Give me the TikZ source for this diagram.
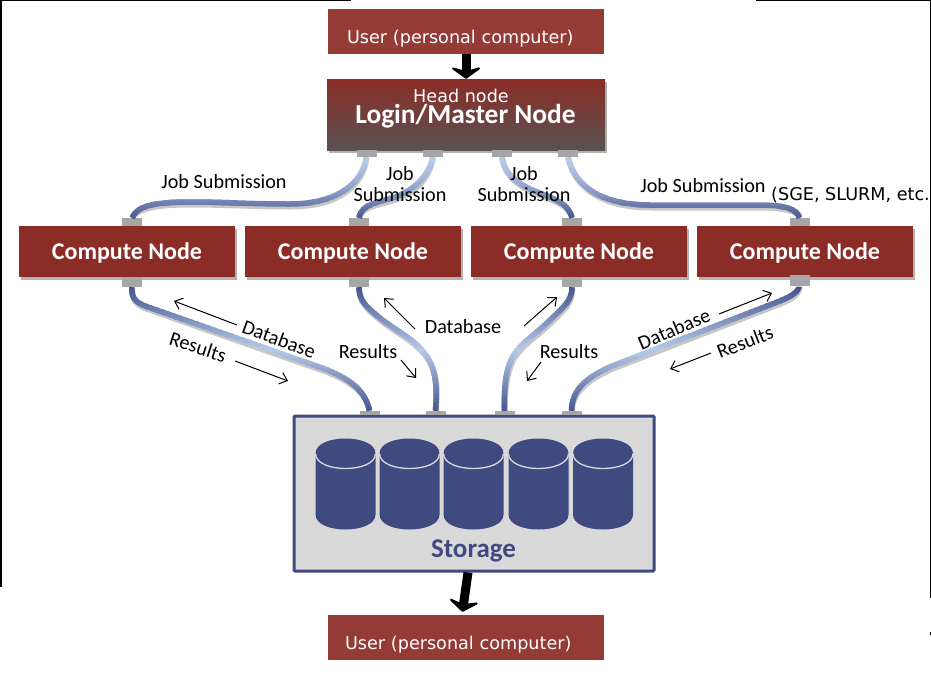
\documentclass[tikz,border=0pt]{standalone}
\usepackage{fontspec}
\setmainfont{Carlito}
\newfontfamily\dejavu{DejaVu Sans}
\usetikzlibrary{arrows.meta,shadows}

\definecolor{nodered}{HTML}{8B2D26}
\definecolor{userred}{HTML}{943B36}
\definecolor{headgrey}{HTML}{595252}
\definecolor{portgrey}{HTML}{A6A6A6}
\definecolor{boxgrey}{HTML}{D9D9D9}
\definecolor{storeblue}{HTML}{3F4A80}
\definecolor{tubelight}{HTML}{B7CAE9}
\definecolor{tubedark}{HTML}{46558F}

\newcommand{\uppertubes}[1]{
  \draw[#1] (hp1.south) .. controls (362,185) and (335,204) .. (290,204) .. controls (250,204) and (225,202) .. (190,202) .. controls (150,202) and (137,207) .. (cp1.north);
  \draw[#1] (hp2.south) .. controls (428,178) and (412,191) .. (395,197) .. controls (378,203) and (362,203) .. (cp2.north);
  \draw[#1] (hp3.south) .. controls (504,175) and (520,185) .. (537,192) .. controls (555,199) and (568,203) .. (cp3.north);
  \draw[#1] (hp4.south) .. controls (574,185) and (600,205) .. (650,205) .. controls (700,205) and (730,205) .. (760,205) .. controls (785,205) and (797,209) .. (cp4.north);
}
\newcommand{\lowertubes}[1]{
  \draw[#1] (cq1.south) .. controls (131,297) and (135,302) .. (145,306) -- (325,369) .. controls (350,379) and (365,390) .. (sp1.north);
  \draw[#1] (cq2.south) .. controls (359,300) and (365,306) .. (380,318) .. controls (395,330) and (410,337) .. (420,348) .. controls (434,362) and (438,380) .. (sp2.north);
  \draw[#1] (cq3.south) .. controls (572,300) and (565,306) .. (548,322) .. controls (535,335) and (520,343) .. (512,358) .. controls (505,372) and (504,390) .. (sp3.north);
  \draw[#1] (cq4.south) .. controls (798,292) and (792,296) .. (780,301) -- (612,366) .. controls (585,378) and (572,390) .. (sp4.north);
}

\begin{document}
\begin{tikzpicture}[
  x=1pt,y=-1pt,>={Straight Barb[length=7pt,width=12pt]},
  userbox/.style={fill=userred,text=white,minimum width=276pt,minimum height=45pt,inner ysep=0pt,inner xsep=17pt,text width=242pt,align=left,text height=30pt,text depth=7pt,font=\dejavu\fontsize{17.6}{20}\selectfont},
  comp/.style={fill=nodered,text=white,minimum width=216pt,minimum height=51pt,inner sep=0pt,text height=20pt,text depth=5pt,font=\bfseries\fontsize{24}{28}\selectfont,boxshadow},
  boxshadow/.style={drop shadow={shadow xshift=1.5pt,shadow yshift=-3pt,fill=black,opacity=.3}},
  port/.style={fill=portgrey,minimum width=20pt,inner sep=0pt},
  lbl/.style={align=center,inner sep=0pt,font=\fontsize{20.2}{21}\selectfont},
  thin arrow/.style={->,line width=1pt},
  thick arrow/.style={draw=black,line width=9pt,-{Stealth[round,length=13pt,width=36pt,inset=5pt]}},
  tubeshadow/.style={draw=black,opacity=.22,line width=6pt,shift={(1pt,-2.5pt)}},
  drum/.pic={
    \fill[storeblue] (-30,-30) .. controls (-30,-50) and (30,-50) .. (30,-30) -- (30,31) .. controls (30,51) and (-30,51) .. (-30,31) -- cycle;
    \draw[boxgrey,line width=1.3pt] (-30,-30) .. controls (-30,-10) and (30,-10) .. (30,-30);
  }
]
\useasboundingbox (0,0) rectangle (931,686);

% edge lines of the sheet
\fill[black] (0,0) rectangle (351,1);
\fill[black] (756,0) rectangle (931,1);
\fill[black] (0,0) rectangle (1.5,587);
\fill[black] (929.5,0) rectangle (931,598);
\fill[black] (929.5,632) rectangle (931,635);

\node[userbox] (usertop) at (466,31.5) {\hspace*{2pt}User (personal computer)};
\node[top color=nodered,middle color=nodered,bottom color=headgrey,minimum width=278pt,minimum height=71pt,inner sep=0pt,boxshadow] (head) at (466,114.5) {};
\node[anchor=base,text=white,inner sep=0pt,font=\dejavu\fontsize{17.6}{20}\selectfont] (headlbl) at (461,102) {Head node};
\node[anchor=base,text=white,inner sep=0pt,font=\bfseries\fontsize{27.4}{30}\selectfont] (loginlbl) at (465.5,123) {Login/Master Node};

\node[comp] (c1) at (127,251.5) {Compute Node};
\node[comp] (c2) at (353,251.5) {Compute Node};
\node[comp] (c3) at (579,251.5) {Compute Node};
\node[comp] (c4) at (805,251.5) {Compute Node};

\node[fill=boxgrey,draw=storeblue,line width=3pt,rounded corners=1pt,minimum width=360pt,minimum height=155pt,inner sep=0pt] (storage) at (474,493.5) {};
\node[anchor=base,text=storeblue,inner sep=0pt,font=\bfseries\fontsize{27}{30}\selectfont] (storelbl) at (473.5,557) {Storage};
\pic at (345.5,483.5) {drum};
\pic at (409.5,483.5) {drum};
\pic at (473.5,483.5) {drum};
\pic at (538.5,483.5) {drum};
\pic at (603,483.5) {drum};

\node[userbox] (userbot) at (466,637.5) {User (personal computer)};

% connector blocks on the boxes
\node[port,minimum height=7pt] (hp1) at (366.5,153.5) {};
\node[port,minimum height=7pt] (hp2) at (433,153.5) {};
\node[port,minimum height=7pt] (hp3) at (502,153.5) {};
\node[port,minimum height=7pt] (hp4) at (568,153.5) {};
\node[port,minimum height=8pt] (cp1) at (132,222) {};
\node[port,minimum height=8pt] (cp2) at (359,222) {};
\node[port,minimum height=8pt] (cp3) at (572,222) {};
\node[port,minimum height=8pt] (cp4) at (799.5,222) {};
\node[port,minimum height=10pt] (cq1) at (132,282) {};
\node[port,minimum height=10pt] (cq2) at (359,282) {};
\node[port,minimum height=10pt] (cq3) at (572,282) {};
\node[port,minimum height=11pt] (cq4) at (799.5,280.5) {};
\node[port,minimum height=4pt] (sp1) at (369.5,413) {};
\node[port,minimum height=4pt] (sp2) at (435.5,413) {};
\node[port,minimum height=4pt] (sp3) at (504.5,413) {};
\node[port,minimum height=4pt] (sp4) at (571.5,413) {};

\uppertubes{tubeshadow}
\lowertubes{tubeshadow}
% tube colour runs with height
\foreach \yb [evaluate=\yb as \pct using 100*((\yb-157)/61)^1.5] in {157,159,...,217} {
  \begin{scope}
    \clip (0,\yb) rectangle (931,\yb+2.2);
    \uppertubes{draw=tubedark!\pct!tubelight,line width=5.5pt}
  \end{scope}
}
\foreach \yb [evaluate=\yb as \pct using 100*abs(\yb-349)/62] in {287,289,...,409} {
  \begin{scope}
    \clip (0,\yb) rectangle (931,\yb+2.2);
    \lowertubes{draw=tubedark!\pct!tubelight,line width=5.5pt}
  \end{scope}
}

\draw[thick arrow] (usertop.south) -- (head.north);
\draw[thick arrow,shorten >=3pt] (storage.south -| 468,0) -- (userbot.north -| 462,0);

\node[lbl] (job1) at (224,182) {Job Submission};
\node[lbl] (job2) at (400,184.5) {Job\\Submission};
\node[lbl] (job3) at (524,184.5) {Job\\Submission};
\node[lbl] (job4) at (703,186) {Job Submission};
\node[inner sep=0pt,anchor=east,font=\dejavu\fontsize{17.6}{20}\selectfont] (sched) at (930,195) {(SGE, SLURM, etc.};

\node[lbl,rotate=-20] (db1) at (279,339) {Database};
\node[lbl,rotate=-18] (res1) at (198,347) {Results};
\node[lbl] (res2) at (368,352) {Results};
\node[lbl] (db2) at (463,327) {Database};
\node[lbl] (res3) at (569,352) {Results};
\node[lbl,rotate=23] (db3) at (674,329) {Database};
\node[lbl,rotate=21] (res4) at (745,342) {Results};

\coordinate (a1s) at (237,325); \coordinate (a1e) at (174,301);
\coordinate (a2s) at (235,361); \coordinate (a2e) at (288,381);
\coordinate (a3s) at (415,329); \coordinate (a3e) at (384,298);
\coordinate (a4s) at (401,360); \coordinate (a4e) at (416,378);
\coordinate (a5s) at (524,326); \coordinate (a5e) at (557,297);
\coordinate (a6s) at (541,362); \coordinate (a6e) at (527,381);
\coordinate (a7s) at (719,314); \coordinate (a7e) at (772,293);
\coordinate (a8s) at (711,353); \coordinate (a8e) at (670,369);
\draw[thin arrow] (a1s) -- (a1e);
\draw[thin arrow] (a2s) -- (a2e);
\draw[thin arrow] (a3s) -- (a3e);
\draw[thin arrow] (a4s) -- (a4e);
\draw[thin arrow] (a5s) -- (a5e);
\draw[thin arrow] (a6s) -- (a6e);
\draw[thin arrow] (a7s) -- (a7e);
\draw[thin arrow] (a8s) -- (a8e);
\end{tikzpicture}
\end{document}
